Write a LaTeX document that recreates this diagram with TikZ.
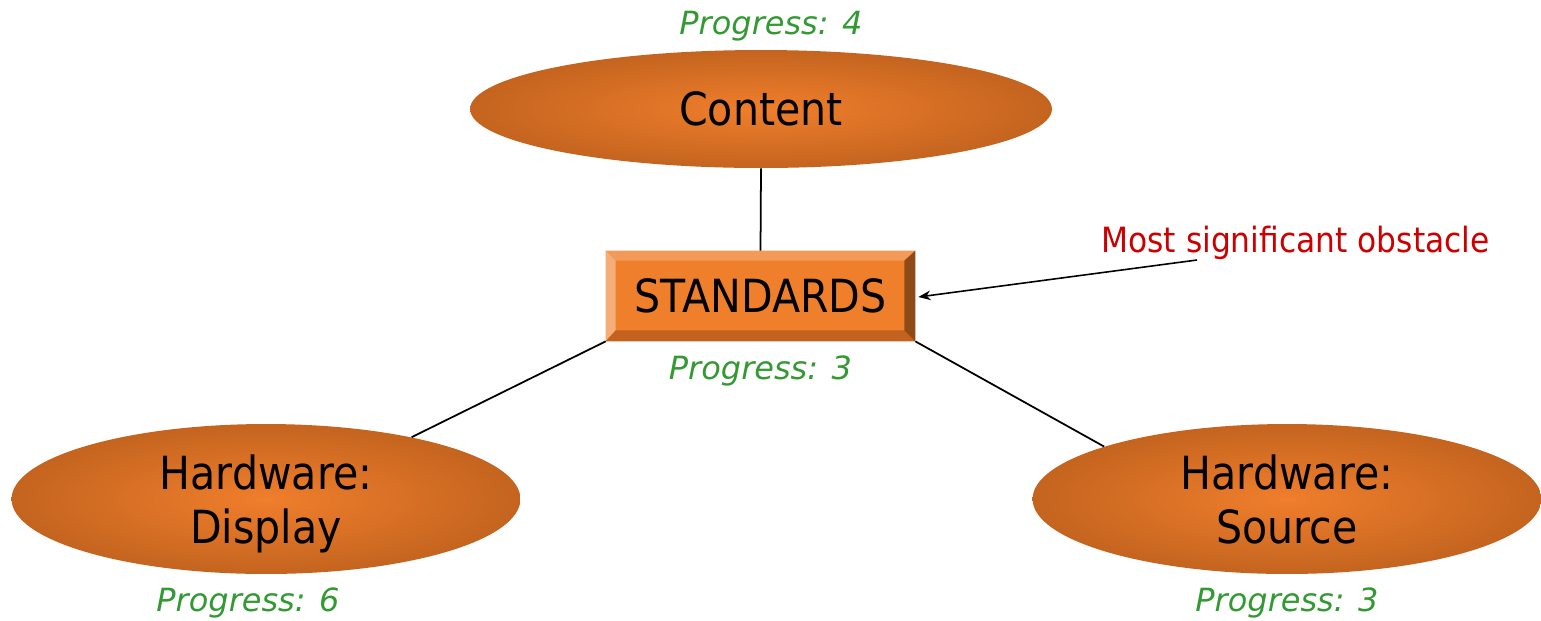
\documentclass[tikz,border=0pt]{standalone}
\usepackage{fontspec}
\setmainfont{DejaVu Sans}
\newfontfamily\narrowfont{DejaVu Sans}[FakeStretch=0.9]
\usepackage{tikz}
\usetikzlibrary{arrows.meta, positioning, calc, shapes.geometric}
\definecolor{orangeedge}{HTML}{C4641F}
\definecolor{orangecore}{HTML}{F07E2C}
\definecolor{stdface}{HTML}{F07F2C}
\definecolor{bevtop}{HTML}{F39A58}
\definecolor{bevleft}{HTML}{F5AE78}
\definecolor{bevbottom}{HTML}{C3621E}
\definecolor{bevright}{HTML}{8F4B17}
\definecolor{progress}{HTML}{339933}
\definecolor{warn}{HTML}{CC0000}

\begin{document}
\begin{tikzpicture}[
  x=0.02cm, y=-0.02cm,
  area/.style={ellipse, inner sep=0pt, outer color=orangeedge, inner color=orangecore,
               text depth=0pt, align=center, font=\narrowfont\fontsize{26}{31}\selectfont},
  prog/.style={inner sep=0pt, text=progress, font=\itshape\fontsize{18.2}{22}\selectfont},
  link/.style={line width=1pt},
  arr/.style={-{Stealth[length=7pt, width=5.5pt]}, line width=0.9pt}
]
  \useasboundingbox (0,0) rectangle (1541,620);

  % Areas
  \node[area, minimum width=11.64cm, minimum height=2.36cm] (content) at (761,109) {Content};
  \node[area, minimum width=10.18cm, minimum height=3cm] (display) at (266,499) {Hardware:\\Display};
  \node[area, minimum width=10.18cm, minimum height=3cm] (source) at (1287,499) {Hardware:\\Source};

  % Standards button
  \node[fill=stdface, inner sep=0pt, minimum width=6.18cm, minimum height=1.8cm,
        font=\narrowfont\fontsize{26}{31}\selectfont] (std) at (760.5,296) {STANDARDS};
  \fill[bevtop] (std.north west) -- (std.north east) -- ($(std.north east)+(-11,10)$)
    -- ($(std.north west)+(10,10)$) -- cycle;
  \fill[bevleft] (std.north west) -- ($(std.north west)+(10,10)$)
    -- ($(std.south west)+(10,-11)$) -- (std.south west) -- cycle;
  \fill[bevbottom] (std.south west) -- ($(std.south west)+(10,-11)$)
    -- ($(std.south east)+(-11,-11)$) -- (std.south east) -- cycle;
  \fill[bevright] (std.south east) -- ($(std.south east)+(-11,-11)$)
    -- ($(std.north east)+(-11,10)$) -- (std.north east) -- cycle;

  % Progress labels
  \node[prog, above=0.16cm of content, xshift=0.2cm] (progcontent) {Progress: 4};
  \node[prog, below=0.28cm of std] (progstd) {Progress: 3};
  \node[prog, below=0.26cm of display, xshift=-0.36cm] (progdisplay) {Progress: 6};
  \node[prog, below=0.26cm of source] (progsource) {Progress: 3};

  % Obstacle note
  \node[text=warn, inner sep=0pt, anchor=base west,
        font=\narrowfont\fontsize{19.8}{23}\selectfont] (obst) at (1101,252) {Most significant obstacle};
  \coordinate (tail) at (1197,260);

  % Links
  \draw[link] (content.south) -- (std.north);
  \draw[link] (std.south west) -- (display.23);
  \draw[link] (std.south east) -- (source.164);
  \draw[arr] (tail) -- ($(std.east)+(3,1)$);
\end{tikzpicture}
\end{document}
